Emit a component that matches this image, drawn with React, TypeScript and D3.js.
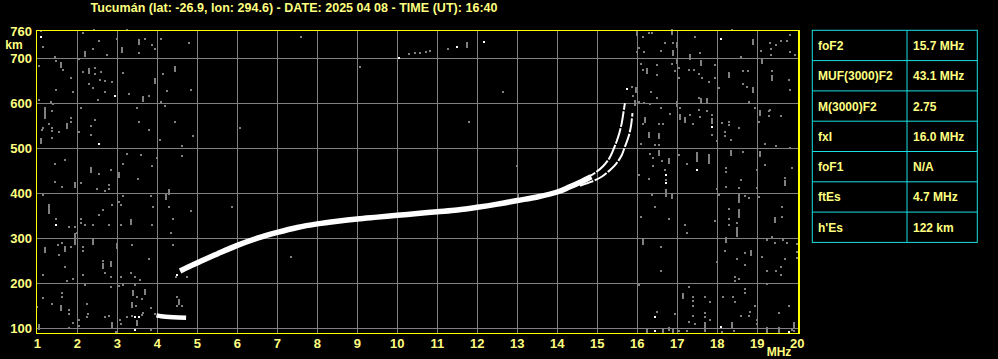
import React from "react";
import * as d3 from "d3";

const TITLE = "Tucumán (lat: -26.9, lon: 294.6) - DATE: 2025 04 08 - TIME (UT): 16:40";
const FREQ_TICKS = d3.range(1, 21);
const KM_TICKS = [100, 200, 300, 400, 500, 600, 700];
const GRID_FREQ = d3.range(2, 20);
const TABLE_LABELS = ["foF2", "MUF(3000)F2", "M(3000)F2", "fxI", "foF1", "ftEs", "h'Es"];
const TABLE_VALUES = ["15.7 MHz", "43.1 MHz", "2.75", "16.0 MHz", "N/A", "4.7 MHz", "122 km"];

// main F2 trace (freq MHz, virtual height km)
const F2_MAIN: [number, number][] = [
  [4.57, 226], [4.8, 236], [5.07, 247], [5.5, 264], [6.0, 283], [6.5, 299], [7.0, 312],
  [7.5, 323], [8.0, 331], [8.5, 337], [9.0, 342],
  [9.5, 346], [10.0, 350], [10.5, 354], [11.0, 358], [11.5, 362], [12.0, 368], [12.5, 375],
  [13.0, 383], [13.5, 391], [14.0, 402], [14.3, 413], [14.6, 425], [14.85, 436],
];
const F2_O: [number, number][] = [
  [14.6, 427], [14.73, 433], [14.98, 447], [15.15, 460], [15.3, 477], [15.4, 496], [15.48, 514],
  [15.55, 533], [15.61, 555], [15.65, 577], [15.69, 600],
];
const F2_X: [number, number][] = [
  [14.57, 416], [14.86, 425], [15.11, 436], [15.32, 451], [15.48, 466], [15.61, 484], [15.69, 503],
  [15.78, 525], [15.84, 548], [15.88, 578],
];
const ES_TRACE: [number, number][] = [[3.98, 127], [4.1, 125], [4.4, 123], [4.72, 122]];

// noise: [freq, km, kind] kind 0 = grey dot, 1 = grey streak, 2 = white dot
const NOISE_LEFT_TOP: [number, number, number][] = [
  [1.09, 761, 0], [1.09, 747, 2], [1.15, 725, 0], [1.44, 702, 0], [1.46, 693, 0], [1.59, 686, 1],
  [1.64, 674, 0], [1.84, 656, 0], [1.88, 626, 0], [1.48, 629, 0], [1.04, 683, 0], [1.03, 608, 0],
  [1.34, 603, 0], [1.39, 598, 0], [1.19, 585, 1], [1.19, 571, 1], [1.38, 583, 0], [1.15, 545, 0],
  [1.11, 541, 0], [1.28, 554, 0], [1.36, 545, 0], [1.38, 537, 0], [1.55, 536, 0], [1.73, 548, 1],
  [1.84, 567, 0], [1.84, 557, 0], [1.1, 515, 1], [1.38, 522, 0], [1.44, 464, 0], [1.69, 473, 0],
  [2.15, 757, 0], [2.42, 762, 0], [2.54, 739, 0], [2.4, 720, 0], [2.19, 710, 1], [2.75, 708, 0],
  [2.98, 744, 0], [3.11, 719, 1], [3.23, 762, 0], [3.54, 736, 1], [3.69, 744, 0], [3.88, 730, 0],
  [3.94, 721, 0], [3.54, 712, 0], [4.09, 744, 0], [4.78, 734, 0], [2.04, 699, 0], [2.15, 669, 0],
  [2.29, 672, 1], [2.44, 678, 0], [2.58, 669, 0], [2.44, 665, 0], [2.3, 643, 0], [2.38, 634, 0],
  [2.57, 652, 0], [2.69, 650, 0], [2.88, 647, 0], [2.93, 616, 2], [2.69, 626, 0], [2.53, 608, 0],
  [2.08, 589, 0], [2.44, 563, 0], [2.33, 550, 0], [2.34, 528, 0], [2.04, 536, 0], [2.54, 509, 2],
  [3.13, 667, 0], [3.28, 620, 0], [3.64, 610, 1], [3.79, 616, 0], [3.48, 589, 0], [3.54, 557, 0],
  [3.79, 541, 0], [3.94, 650, 1], [4.13, 665, 0], [4.44, 677, 1], [4.23, 628, 0], [4.84, 629, 0],
  [4.08, 603, 0], [4.19, 594, 0], [4.44, 558, 0], [4.07, 519, 0], [4.88, 527, 0], [4.63, 504, 0],
  [4.63, 483, 0], [3.98, 478, 0], [3.88, 460, 0], [3.59, 484, 0], [3.24, 487, 0], [3.13, 464, 0],
  [2.84, 451, 0], [3.04, 441, 1], [3.53, 432, 0], [2.33, 450, 1], [2.54, 442, 0],
];
const NOISE_LEFT_BOTTOM: [number, number, number][] = [
  [1.44, 425, 0], [1.63, 414, 0], [1.93, 418, 1], [2.08, 423, 0], [2.48, 409, 0], [2.79, 418, 0],
  [2.79, 409, 0], [2.69, 404, 0], [1.15, 395, 0], [1.29, 368, 1], [1.29, 360, 1], [1.48, 341, 0],
  [1.48, 328, 2], [1.8, 325, 0], [1.94, 325, 0], [1.98, 311, 0], [1.94, 304, 1], [2.09, 341, 0],
  [2.09, 332, 0], [2.19, 328, 0], [2.38, 328, 0], [2.54, 351, 0], [2.65, 363, 0], [2.88, 373, 0],
  [2.79, 328, 0], [3.03, 380, 0], [3.09, 373, 0], [3.13, 392, 0], [3.09, 328, 0], [3.33, 336, 1],
  [3.86, 328, 0], [3.83, 392, 0], [3.9, 369, 0], [4.22, 390, 1], [4.28, 403, 1], [4.3, 369, 0],
  [4.38, 341, 0], [4.34, 311, 0], [4.84, 360, 0], [1.51, 284, 0], [1.63, 289, 0], [1.69, 274, 1],
  [1.84, 280, 0], [1.94, 291, 1], [1.19, 273, 1], [1.55, 261, 0], [2.13, 280, 0], [2.13, 270, 0],
  [2.38, 291, 1], [2.98, 282, 1], [3.38, 284, 0], [3.79, 253, 0], [4.4, 284, 0], [1.69, 234, 0],
  [1.15, 217, 0], [1.73, 204, 0], [1.88, 208, 0], [2.13, 217, 0], [2.65, 248, 0], [2.65, 237, 1],
  [2.84, 241, 1], [2.69, 221, 0], [2.84, 212, 0], [3.08, 212, 0], [3.33, 221, 0], [3.44, 212, 0],
  [3.57, 206, 0], [1.61, 176, 0], [1.61, 167, 0], [2.19, 195, 0], [2.84, 191, 0], [3.04, 192, 0],
  [3.13, 195, 0], [3.44, 195, 0], [3.4, 178, 1], [3.69, 180, 1], [3.48, 167, 0], [3.61, 164, 0],
  [3.38, 150, 1], [3.47, 148, 0], [1.13, 165, 0], [1.38, 152, 0], [1.59, 143, 1], [1.8, 139, 0],
  [1.8, 130, 0], [0.98, 145, 0], [2.23, 152, 0], [2.28, 130, 0], [1.88, 111, 0], [2.05, 117, 0],
  [2.23, 124, 0], [2.03, 104, 0], [1.8, 100, 0], [1.03, 102, 1], [2.69, 124, 0], [2.79, 126, 0],
  [2.88, 106, 1], [3.07, 117, 0], [3.09, 108, 0], [2.97, 91, 0], [3.23, 123, 0], [3.36, 126, 0],
  [3.44, 123, 2], [3.54, 123, 2], [3.48, 111, 1], [3.44, 94, 2], [3.61, 128, 0], [3.65, 132, 0],
  [3.83, 144, 0], [3.83, 94, 0], [4.48, 169, 0], [4.53, 157, 1], [4.48, 148, 0], [4.61, 148, 0],
  [4.47, 213, 0], [4.49, 218, 2], [4.73, 213, 0], [3.95, 129, 0], [4.2, 126, 0],
];
const NOISE_RIGHT_TOP: [number, number, number][] = [
  [15.98, 756, 1], [16.29, 756, 0], [16.38, 756, 0], [16.13, 747, 0], [16.88, 759, 1], [16.68, 734, 0],
  [16.9, 734, 0], [16.98, 730, 1], [16.04, 724, 0], [16.18, 715, 0], [15.98, 714, 0], [16.58, 717, 0],
  [16.9, 712, 1], [17.44, 747, 0], [17.58, 712, 0], [17.33, 704, 1], [18.09, 744, 2], [18.38, 762, 0],
  [18.59, 702, 0], [18.88, 736, 1], [19.09, 717, 0], [19.33, 734, 0], [19.34, 721, 0], [19.34, 708, 0],
  [19.48, 730, 0], [19.59, 738, 0], [19.73, 739, 0], [19.83, 753, 0], [19.83, 715, 0], [19.94, 708, 0],
  [16.09, 687, 0], [16.15, 675, 0], [16.23, 672, 1], [16.48, 684, 0], [16.48, 662, 0], [16.88, 687, 0],
  [16.94, 671, 0], [17.03, 678, 0], [16.98, 695, 1], [17.28, 675, 0], [17.42, 675, 0], [17.54, 665, 0],
  [17.59, 690, 1], [17.63, 656, 0], [17.94, 684, 0], [17.94, 656, 0], [17.78, 647, 0], [18.29, 662, 1],
  [18.65, 671, 0], [18.76, 671, 0], [18.63, 643, 0], [18.75, 637, 0], [18.88, 630, 1], [19.13, 693, 1],
  [19.38, 671, 0], [19.38, 655, 1], [19.79, 652, 0], [19.83, 630, 0], [17.05, 656, 0], [15.73, 631, 2],
  [15.97, 630, 1], [15.86, 637, 0], [15.9, 615, 0], [15.94, 600, 1], [16.03, 602, 0], [16.18, 600, 0],
  [16.32, 598, 0], [16.34, 625, 0], [16.48, 611, 0], [16.58, 589, 0], [16.83, 576, 0], [16.98, 598, 1],
  [17.08, 589, 0], [17.08, 570, 1], [17.19, 563, 1], [17.33, 573, 0], [17.38, 553, 0], [17.54, 585, 0],
  [17.58, 570, 0], [17.54, 611, 0], [17.59, 605, 1], [17.73, 605, 1], [17.73, 582, 0], [17.88, 573, 0],
  [17.88, 561, 1], [17.88, 546, 2], [18.04, 634, 0], [18.28, 558, 0], [18.28, 551, 0], [18.19, 536, 0],
  [18.19, 526, 0], [18.34, 519, 0], [18.53, 545, 0], [18.78, 603, 0], [18.94, 589, 0], [19.08, 578, 1],
  [19.05, 558, 0], [19.28, 582, 0], [19.28, 571, 0], [19.33, 585, 0], [19.59, 571, 0], [16.19, 563, 1],
  [16.15, 553, 0], [16.29, 530, 1], [16.55, 553, 0], [16.65, 553, 0], [16.55, 526, 1], [16.55, 506, 0],
  [16.44, 506, 0], [16.09, 509, 0], [17.88, 528, 0], [18.11, 556, 0], [17.98, 515, 0], [19.19, 509, 0],
  [19.48, 504, 0], [19.83, 501, 0], [16.32, 487, 0], [16.4, 478, 0], [16.55, 489, 1], [16.4, 461, 0],
  [16.63, 470, 0], [16.8, 472, 1], [16.68, 452, 0], [16.73, 439, 2], [16.73, 428, 0], [17.05, 484, 0],
  [17.23, 464, 0], [17.48, 485, 1], [17.48, 476, 1], [17.48, 452, 2], [17.79, 481, 1], [17.79, 472, 1],
  [18.23, 455, 0], [18.23, 446, 0], [18.34, 489, 1], [18.59, 429, 0], [18.65, 491, 0], [18.98, 452, 0],
  [19.07, 487, 1], [19.19, 463, 0], [19.69, 433, 0], [19.88, 455, 0], [16.04, 439, 0], [16.28, 432, 0],
];
const NOISE_RIGHT_BOTTOM: [number, number, number][] = [
  [16.73, 423, 2], [16.73, 403, 1], [16.88, 393, 1], [16.38, 395, 0], [16.44, 369, 0], [16.73, 392, 0],
  [16.09, 347, 0], [16.79, 342, 0], [16.13, 291, 1], [17.19, 328, 0], [17.23, 311, 0], [17.98, 408, 0],
  [18.23, 414, 0], [18.55, 410, 0], [18.54, 392, 1], [18.54, 384, 1], [18.54, 357, 1], [18.54, 350, 1],
  [18.48, 317, 1], [18.48, 309, 1], [18.69, 392, 0], [18.8, 388, 0], [18.04, 395, 0], [18.29, 364, 0],
  [18.29, 342, 0], [18.29, 328, 0], [18.48, 334, 0], [17.94, 338, 0], [18.98, 410, 0], [19.03, 391, 0],
  [19.68, 421, 1], [19.63, 369, 0], [19.63, 347, 0], [19.44, 339, 1], [19.38, 301, 0], [19.44, 289, 0],
  [19.65, 296, 0], [19.73, 289, 0], [19.98, 287, 0], [19.98, 269, 0], [19.98, 254, 0], [19.23, 296, 0],
  [18.23, 295, 1], [16.59, 280, 0], [16.59, 227, 0], [18.19, 271, 0], [18.69, 267, 0], [18.84, 265, 1],
  [18.48, 252, 0], [18.69, 239, 0], [19.13, 258, 0], [19.68, 253, 0], [19.59, 234, 0], [19.25, 227, 0],
  [19.48, 227, 0], [19.59, 217, 0], [18.44, 212, 0], [18.54, 208, 0], [18.44, 204, 0], [17.98, 245, 0],
  [16.04, 195, 0], [17.29, 191, 0], [18.69, 185, 0], [18.69, 177, 0], [19.23, 198, 0], [17.13, 170, 1],
  [17.38, 167, 0], [17.38, 160, 0], [17.38, 148, 0], [17.69, 169, 0], [17.83, 157, 0], [18.15, 169, 0],
  [18.4, 169, 0], [18.44, 157, 0], [18.94, 148, 0], [19.79, 148, 0], [16.48, 135, 0], [16.44, 124, 2],
  [16.94, 130, 0], [17.4, 126, 0], [17.29, 113, 0], [17.69, 132, 0], [17.69, 123, 0], [17.69, 106, 1],
  [17.69, 96, 1], [17.44, 108, 0], [17.83, 117, 0], [18.59, 126, 0], [18.82, 135, 0], [18.8, 126, 0],
  [18.38, 106, 1], [18.09, 102, 2], [18.13, 91, 0], [18.42, 93, 0], [18.98, 117, 0], [18.98, 108, 0],
  [19.55, 132, 0], [19.23, 94, 1], [19.55, 94, 1], [19.92, 106, 1], [19.78, 91, 2], [19.86, 94, 0],
  [16.44, 93, 2], [16.23, 93, 1], [16.65, 93, 1], [16.8, 94, 0], [16.9, 93, 1], [17.03, 93, 0],
  [17.23, 93, 0], [16.78, 98, 0], [19.92, 93, 0],
];
const NOISE_MIDDLE: [number, number, number][] = [
  [9.07, 680, 0], [10.04, 700, 2], [10.29, 709, 0], [10.44, 712, 0], [10.57, 712, 0], [10.72, 714, 0],
  [10.82, 716, 0], [11.27, 720, 0], [11.49, 726, 2], [11.73, 730, 1], [12.17, 737, 2], [7.59, 748, 0],
  [5.88, 369, 0], [7.34, 258, 0], [4.84, 360, 0], [12.64, 625, 0], [11.79, 559, 0], [12.99, 460, 0],
  [13.03, 393, 1], [6.07, 545, 0],
];

const W = 998;
const H = 359;
const YELLOW = "#ffff00";
const TEXT = "#ffff80";
const GRID = "#808080";
const CYAN = "#18e0e0";
const FONT = "'Liberation Sans', Arial, sans-serif";

export default function App() {
  const x = d3.scaleLinear().domain([1, 20]).range([37.3, 797.3]);
  const y = d3.scaleLinear().domain([100, 700]).range([327.5, 58.3]);
  const left = x(0.955);
  const right = x(20.02);
  const top = y(763.5);
  const bottom = y(88.5);

  const line = d3
    .line<[number, number]>()
    .x((d) => x(d[0]))
    .y((d) => y(d[1]))
    .curve(d3.curveCatmullRom);

  const noise = [
    ...NOISE_LEFT_TOP,
    ...NOISE_LEFT_BOTTOM,
    ...NOISE_RIGHT_TOP,
    ...NOISE_RIGHT_BOTTOM,
    ...NOISE_MIDDLE,
  ];

  const tableLeft = 812.3;
  const tableRight = 977.3;
  const tableDiv = 907;
  const rowTop = 30.3;
  const rowH = 30.3;

  return (
    <svg
      width={W}
      height={H}
      style={{ position: "absolute", left: 0, top: 0, background: "#000", display: "block" }}
    >
      <rect x={0} y={0} width={W} height={H} fill="#000" />
      {/* title */}
      <text
        x={294}
        y={12}
        fill={TEXT}
        fontFamily={FONT}
        fontWeight="bold"
        fontSize={12.5}
        textAnchor="middle"
        textLength={407}
        lengthAdjust="spacing"
      >
        {TITLE}
      </text>

      {/* grid */}
      <g stroke={GRID} strokeWidth={1} shapeRendering="crispEdges">
        {GRID_FREQ.map((f) => (
          <line key={"v" + f} x1={Math.round(x(f)) + 0.5} x2={Math.round(x(f)) + 0.5} y1={top} y2={bottom} />
        ))}
        {KM_TICKS.map((k) => (
          <line key={"h" + k} x1={left} x2={right} y1={Math.round(y(k)) + 0.5} y2={Math.round(y(k)) + 0.5} />
        ))}
      </g>

      {/* noise */}
      <g shapeRendering="crispEdges">
        {noise.map((d, i) => {
          const cx = Math.round(x(d[0]));
          const cy = Math.round(y(d[1]));
          const isStreak = d[2] === 1;
          return (
            <rect
              key={i}
              x={cx - 1}
              y={isStreak ? cy - 3 : cy - 1}
              width={2}
              height={isStreak ? 6 : 2}
              fill={d[2] === 2 ? "#ffffff" : GRID}
            />
          );
        })}
      </g>

      {/* traces */}
      <path d={line(F2_MAIN) || ""} fill="none" stroke="#fff" strokeWidth={5.5} />
      <path d={line(F2_O) || ""} fill="none" stroke="#fff" strokeWidth={2} strokeDasharray="16 1.5" />
      <path d={line(F2_X) || ""} fill="none" stroke="#fff" strokeWidth={2} strokeDasharray="14 1.5" />
      <path d={line(ES_TRACE) || ""} fill="none" stroke="#fff" strokeWidth={4.5} />

      {/* frame */}
      <rect
        x={Math.round(left) + 0.5}
        y={Math.round(top) + 0.5}
        width={Math.round(right) - Math.round(left)}
        height={Math.round(bottom) - Math.round(top)}
        fill="none"
        stroke={YELLOW}
        strokeWidth={1}
        shapeRendering="crispEdges"
      />
      <line x1={Math.round(right) + 1} x2={Math.round(right) + 1} y1={top} y2={bottom + 1} stroke={YELLOW} strokeWidth={1} shapeRendering="crispEdges" />

      {/* y labels */}
      <g fill={TEXT} fontFamily={FONT} fontWeight="bold" fontSize={13} textAnchor="end">
        {KM_TICKS.map((k) => (
          <text key={"yl" + k} x={32} y={y(k) + 5}>
            {k}
          </text>
        ))}
        <text x={32} y={y(760) + 5}>760</text>
        <text x={14} y={49} fontSize={12} textAnchor="middle">km</text>
      </g>

      {/* x labels */}
      <g fill={TEXT} fontFamily={FONT} fontWeight="bold" fontSize={13} textAnchor="middle">
        {FREQ_TICKS.map((f) => (
          <text key={"xl" + f} x={x(f)} y={348}>
            {f}
          </text>
        ))}
        <text x={779} y={356} fontSize={12}>MHz</text>
      </g>

      {/* table */}
      <g>
        <rect
          x={tableLeft}
          y={rowTop}
          width={tableRight - tableLeft}
          height={rowH * TABLE_LABELS.length}
          fill="none"
          stroke={CYAN}
          strokeWidth={1}
        />
        <line x1={tableDiv} x2={tableDiv} y1={rowTop} y2={rowTop + rowH * TABLE_LABELS.length} stroke={CYAN} />
        {TABLE_LABELS.slice(1).map((_, i) => (
          <line
            key={"r" + i}
            x1={tableLeft}
            x2={tableRight}
            y1={rowTop + rowH * (i + 1)}
            y2={rowTop + rowH * (i + 1)}
            stroke={CYAN}
          />
        ))}
        {TABLE_LABELS.map((lab, i) => (
          <text
            key={"tl" + i}
            x={818}
            y={rowTop + rowH * i + rowH / 2 + 4.5}
            fill={TEXT}
            fontFamily={FONT}
            fontWeight="bold"
            fontSize={12}
          >
            {lab}
          </text>
        ))}
        {TABLE_VALUES.map((v, i) => (
          <text
            key={"tv" + i}
            x={913}
            y={rowTop + rowH * i + rowH / 2 + 4.5}
            fill={TEXT}
            fontFamily={FONT}
            fontWeight="bold"
            fontSize={12}
          >
            {v}
          </text>
        ))}
      </g>
    </svg>
  );
}
